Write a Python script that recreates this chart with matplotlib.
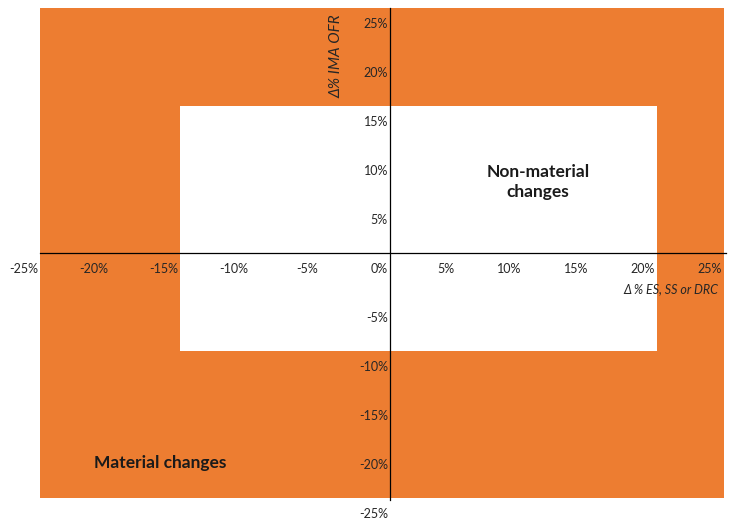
import numpy as np
import matplotlib
matplotlib.use('Agg')
from matplotlib import pyplot as plt
from matplotlib.patches import Rectangle

# axis ticks (in %)
tickValues = [-25, -20, -15, -10, -5, 0, 5, 10, 15, 20, 25]
tickLabels = [f'{v}%' for v in tickValues]

# orange = material change zone, white = tolerance box (non-material)
outerX = [-25, 25]
outerY = [-25, 25]
innerX = [-15, 20]
innerY = [-10, 15]

xTitle = '\u0394 % ES, SS or DRC'
yTitle = '\u0394% IMA OFR'
innerText = 'Non-material\nchanges'
outerText = 'Material changes'

ORANGE = '#ED7D31'
LEFT_STRETCH = 1.048   # negative side of the x axis is drawn a bit wider in the original


def fwd(x):
    x = np.asarray(x, dtype=float)
    return np.where(x < 0, x*LEFT_STRETCH, x)


def inv(x):
    x = np.asarray(x, dtype=float)
    return np.where(x < 0, x/LEFT_STRETCH, x)


plt.rcParams['font.family'] = ['Lato', 'DejaVu Sans']

fig = plt.figure(figsize=(7.48, 5.24), dpi=100)
ax = fig.add_axes([0, 0, 1, 1])
ax.set_xscale('function', functions=(fwd, inv))
ax.set_xlim(-27.85, 26.8)
ax.set_ylim(-27.65, 25.82)
ax.axis('off')

ax.add_patch(Rectangle((outerX[0], outerY[0]), outerX[1]-outerX[0], outerY[1]-outerY[0],
                       facecolor=ORANGE, edgecolor='none', zorder=1))
ax.add_patch(Rectangle((innerX[0], innerY[0]), innerX[1]-innerX[0], innerY[1]-innerY[0],
                       facecolor='white', edgecolor='none', zorder=2))

# axes crossing at the origin
ax.plot([outerX[0], outerX[1] + 0.15], [0, 0], color='black', lw=0.9, zorder=3)
ax.plot([0, 0], [outerY[0] - 0.2, outerY[1]], color='black', lw=0.9, zorder=3)

# tick labels sit below-left of their tick position
for v, lab in zip(tickValues, tickLabels):
    ax.annotate(lab, (v, 0), xytext=(-2, -16), textcoords='offset pixels',
                ha='right', va='center', fontsize=9, color='#262626', zorder=4)
    if v != 0:
        ax.annotate(lab, (0, v), xytext=(-2, -16), textcoords='offset pixels',
                    ha='right', va='center', fontsize=9, color='#262626', zorder=4)

ax.text(24.55, -3.67, xTitle, ha='right', va='center', fontsize=9,
        style='italic', color='#262626', zorder=4)
ax.text(-3.8, 20.1, yTitle, ha='center', va='center', rotation=90, fontsize=11,
        style='italic', color='#262626', zorder=4)

ax.text(11.08, 7.24, innerText, ha='center', va='center', fontsize=12.5,
        fontweight='bold', color='#1a1a1a', linespacing=1.3, zorder=4)
ax.text(-16.4, -21.4, outerText, ha='center', va='center', fontsize=12.5,
        fontweight='bold', color='#1a1a1a', zorder=4)

fig.savefig('out.png', dpi=100)
